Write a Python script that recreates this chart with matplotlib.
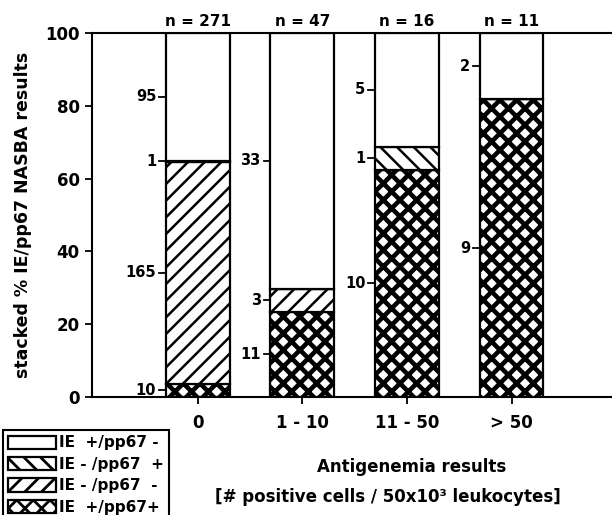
import matplotlib
matplotlib.use("Agg")
import matplotlib.pyplot as plt
import numpy as np

# counts, per antigenemia class
categories = ["0", "1 - 10", "11 - 50", "> 50"]
n_total = [271, 47, 16, 11]
ie_pos_pp_pos = [10, 11, 10, 9]    # IE +/pp67 +
ie_neg_pp_neg = [165, 3, 0, 0]     # IE -/pp67 -
ie_neg_pp_pos = [1, 0, 1, 0]       # IE -/pp67 +
ie_pos_pp_neg = [95, 33, 5, 2]     # IE +/pp67 -

legend_labels = ["IE  +/pp67 -", "IE - /pp67  +", "IE - /pp67  -", "IE  +/pp67+"]

plt.rcParams["font.family"] = "DejaVu Sans"
plt.rcParams["font.weight"] = "bold"
plt.rcParams["hatch.linewidth"] = 2.0

fig = plt.figure(figsize=(6.12, 5.15), dpi=100)
ax = fig.add_axes([92 / 612, 1 - 397 / 515, 520 / 612, 364 / 515])

x = np.arange(len(categories))
tot = np.array(n_total, dtype=float)
# stacking order from the bottom up
layers = [
    (ie_pos_pp_pos, "xx", 3.3),
    (ie_neg_pp_neg, "//", 1.8),
    (ie_neg_pp_pos, "\\\\", 1.8),
    (ie_pos_pp_neg, "", 1.0),
]
width = 0.61
bottom = np.zeros(len(x))
handles = []
for counts, hatch, hlw in layers:
    counts = np.array(counts, dtype=float)
    pct = counts / tot * 100
    bars = ax.bar(x, pct, width, bottom=bottom, color="white", edgecolor="black",
                  linewidth=1.6, hatch=hatch, zorder=2)
    for p in bars:
        if hasattr(p, "set_hatch_linewidth"):
            p.set_hatch_linewidth(hlw)
    handles.append(bars)
    for i in range(len(x)):
        if counts[i] == 0:
            continue
        mid = bottom[i] + pct[i] / 2
        left = x[i] - width / 2
        ax.plot([left - 0.065, left], [mid, mid], color="black", lw=1.3, zorder=3,
                clip_on=False)
        ax.annotate(str(int(counts[i])), (left - 0.065, mid), xytext=(-2, 0),
                    textcoords="offset points", ha="right", va="center",
                    fontsize=10.5, fontweight="bold")
    bottom = bottom + pct

for i, n in enumerate(n_total):
    ax.annotate("n = %d" % n, (x[i], 100), xytext=(0, 3), textcoords="offset points",
                ha="center", va="bottom", fontsize=11, fontweight="bold",
                annotation_clip=False)

ax.set_xlim(-1.01, 3.96)
ax.set_ylim(0, 100)
ax.set_yticks([0, 20, 40, 60, 80, 100])
ax.set_xticks(x)
ax.set_xticklabels(categories)
ax.tick_params(axis="both", direction="out", length=5, width=1.3, labelsize=12)
ax.tick_params(axis="x", pad=7)
ax.tick_params(axis="y", pad=4)
for s in ["left", "bottom", "top"]:
    ax.spines[s].set_linewidth(1.5)
ax.spines["right"].set_visible(False)
ax.set_ylabel("stacked % IE/pp67 NASBA results", fontsize=12.5, fontweight="bold",
              labelpad=9)

fig.text(412 / 612, 1 - 467 / 515, "Antigenemia results", ha="center", va="center",
         fontsize=12, fontweight="bold")
fig.text(388 / 612, 1 - 497 / 515, "[# positive cells / 50x10\u00b3 leukocytes]",
         ha="center", va="center", fontsize=12, fontweight="bold")

order = [3, 2, 1, 0]
leg = fig.legend([handles[k] for k in order], legend_labels, loc="upper left",
                 bbox_to_anchor=(3 / 612, 1 - 430 / 515), bbox_transform=fig.transFigure,
                 frameon=True, fancybox=False, edgecolor="black", framealpha=1,
                 borderaxespad=0, handlelength=3.1, handleheight=0.95,
                 handletextpad=0.2, labelspacing=0.42, borderpad=0.35,
                 prop={"size": 11, "weight": "bold"})
leg.get_frame().set_linewidth(1.5)

fig.savefig("out.png", dpi=100)
